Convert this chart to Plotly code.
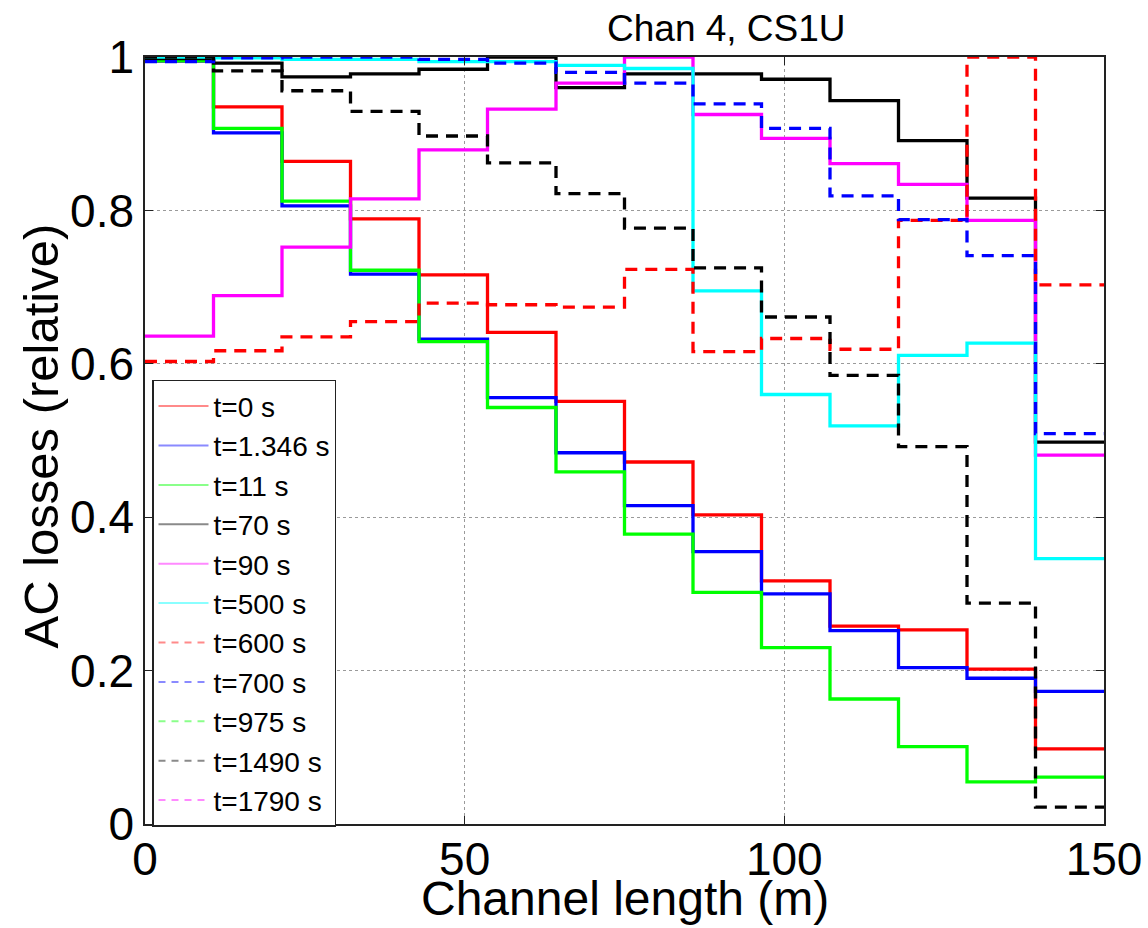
import plotly.graph_objects as go

# Bin edges along the channel (m)
edges = [0, 10.714, 21.429, 32.143, 42.857, 53.571, 64.286, 75.0,
         85.714, 96.429, 107.143, 117.857, 128.571, 139.286, 150]

labels = ["t=0 s", "t=1.346 s", "t=11 s", "t=70 s", "t=90 s", "t=500 s",
          "t=600 s", "t=700 s", "t=975 s", "t=1490 s", "t=1790 s"]

t0 = [0.995, 0.935, 0.864, 0.789, 0.716, 0.641, 0.551, 0.472, 0.403, 0.317, 0.258, 0.253, 0.202, 0.098]
t1346 = [0.995, 0.901, 0.806, 0.717, 0.632, 0.556, 0.484, 0.415, 0.355, 0.300, 0.252, 0.204, 0.190, 0.173]
t11 = [0.995, 0.907, 0.812, 0.722, 0.629, 0.543, 0.459, 0.378, 0.302, 0.230, 0.163, 0.101, 0.055, 0.061]
t70 = [0.998, 0.992, 0.974, 0.978, 0.984, 1.0, 0.960, 0.978, 0.978, 0.971, 0.943, 0.891, 0.816, 0.498]
t90 = [0.636, 0.689, 0.752, 0.815, 0.879, 0.932, 0.966, 1.0, 0.925, 0.894, 0.861, 0.834, 0.787, 0.481]
t500 = [1.0, 0.999, 0.997, 0.997, 0.994, 0.994, 0.989, 0.985, 0.695, 0.560, 0.519, 0.611, 0.627, 0.346]
t600 = [0.603, 0.617, 0.635, 0.655, 0.679, 0.677, 0.674, 0.723, 0.616, 0.633, 0.619, 0.787, 1.0, 0.703]
t700 = [0.994, 0.999, 1.0, 1.0, 0.997, 0.992, 0.980, 0.966, 0.939, 0.907, 0.819, 0.788, 0.741, 0.509]
t975 = []
t1490 = [1.0, 0.982, 0.956, 0.929, 0.897, 0.862, 0.822, 0.777, 0.725, 0.661, 0.585, 0.492, 0.288, 0.022]
t1790 = []

series = [t0, t1346, t11, t70, t90, t500, t600, t700, t975, t1490, t1790]
colors = ["#ff0000", "#0000ff", "#00ff00", "#000000", "#ff00ff", "#00ffff",
          "#ff0000", "#0000ff", "#00ff00", "#000000", "#ff00ff"]
legend_colors = ["#ff8a8a", "#8a8aff", "#8aff8a", "#8a8a8a", "#ff8aff", "#8affff",
                 "#ff8a8a", "#8a8aff", "#8aff8a", "#8a8a8a", "#ff8aff"]
dashed = [False] * 6 + [True] * 5

FONT = "Liberation Sans, Arial, Helvetica, sans-serif"

fig = go.Figure()

for vals, col, dsh in zip(series, colors, dashed):
    if not vals:
        continue
    fig.add_trace(go.Scatter(
        x=edges, y=vals + [vals[-1]], mode="lines", line_shape="hv",
        line=dict(color=col, width=3.3, dash="12px,8px" if dsh else "solid"),
        showlegend=False, hoverinfo="skip"))

for lab, col, dsh in zip(labels, legend_colors, dashed):
    fig.add_trace(go.Scatter(
        x=[None], y=[None], mode="lines", name=lab,
        line=dict(color=col, width=2, dash="7px,6px" if dsh else "solid")))

axis_common = dict(
    showline=True, linecolor="#222", linewidth=1.5, mirror="ticks",
    ticks="inside", ticklen=8, tickcolor="#222", automargin=False,
    showgrid=True, gridcolor="#9a9a9a", griddash="dot", gridwidth=1,
    zeroline=False, tickfont=dict(size=46, color="black", family=FONT),
)

fig.update_layout(
    width=1148, height=928,
    margin=dict(l=145, r=44, t=57, b=104),
    paper_bgcolor="white", plot_bgcolor="white",
    font=dict(family=FONT, color="black"),
    xaxis=dict(range=[0, 150], tickvals=[0, 50, 100, 150],
               ticklabelstandoff=-6, **axis_common),
    yaxis=dict(range=[0, 1], tickvals=[0, 0.2, 0.4, 0.6, 0.8, 1],
               ticktext=["0", "0.2", "0.4", "0.6", "0.8", "1"],
               **axis_common),
    legend=dict(x=0.0073, y=0.579, xanchor="left", yanchor="top",
                bgcolor="white", bordercolor="#222", borderwidth=1.5,
                font=dict(size=28, color="black", family=FONT),
                tracegroupgap=0, itemwidth=50),
    annotations=[
        dict(text="Chan 4, CS1U", xref="paper", yref="paper",
             x=0.606, y=1.0, xanchor="center", yanchor="bottom",
             yshift=6, showarrow=False,
             font=dict(size=37, color="black", family=FONT)),
        dict(text="Channel length (m)", xref="paper", yref="paper",
             x=0.5, y=0.0, xanchor="center", yanchor="middle",
             yshift=-74, showarrow=False,
             font=dict(size=48, color="black", family=FONT)),
        dict(text="AC losses (relative)", xref="paper", yref="paper",
             x=0.0, y=0.5, xanchor="center", yanchor="middle",
             xshift=-105, yshift=4, textangle=-90, showarrow=False,
             font=dict(size=49, color="black", family=FONT)),
    ],
)

fig.write_html("out.html")
